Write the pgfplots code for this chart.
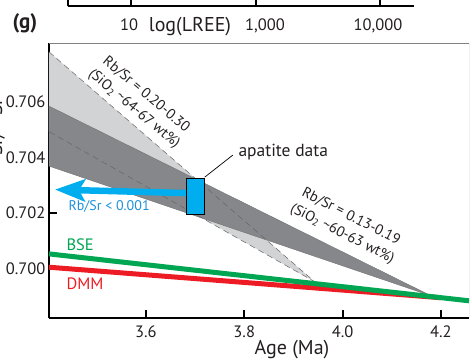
\documentclass[border=0pt]{standalone}
\usepackage{pgfplots}
\pgfplotsset{compat=1.18}
\usepackage{fontspec}
\setmainfont{PT Sans}
\usetikzlibrary{arrows.meta}
\definecolor{lgray}{HTML}{D1D3D4}
\definecolor{dgray}{HTML}{86878A}
\definecolor{acyan}{HTML}{00AEEF}
\definecolor{tblue}{HTML}{1E90D8}
\definecolor{bsegreen}{HTML}{00A651}
\definecolor{dmmred}{HTML}{ED1C24}
\definecolor{txt}{HTML}{231F20}

\begin{document}
\begin{tikzpicture}[x=1pt,y=1pt]
% fragment of the panel above
\begin{axis}[
  at={(68pt,354pt)}, anchor=south west,
  scale only axis, width=346pt, height=30pt,
  xmin=0, xmax=346, ymin=0, ymax=1,
  axis lines*=left,
  axis line style={line width=1.6pt, black},
  xtick={63,188,312}, xticklabels={},
  ytick=\empty,
  tick align=inside,
  major tick length=6pt,
  tick style={line width=1.6pt, black},
]
\end{axis}
\node[anchor=base, font=\fontsize{16.5}{19}\selectfont, text=txt] at (129,330) {10};
\node[anchor=base, font=\fontsize{16.5}{19}\selectfont, text=txt] at (265,330) {1,000};
\node[anchor=base, font=\fontsize{16.5}{19}\selectfont, text=txt] at (378,330) {10,000};
\node[anchor=base, font=\fontsize{20}{22}\selectfont, text=txt] at (190,329) {log(LREE)};
\node[anchor=base, font=\bfseries\fontsize{21}{24}\selectfont, text=txt] at (25,332) {(g)};

% main panel
\begin{axis}[
  at={(49pt,42pt)}, anchor=south west,
  scale only axis, width=420pt, height=275pt,
  xmin=3.403, xmax=4.257, ymin=0.69821, ymax=0.70812,
  axis lines*=left,
  axis line style={line width=1.8pt, black},
  xtick={3.6,3.8,4.0,4.2},
  ytick={0.700,0.702,0.704,0.706},
  tick align=inside,
  major tick length=8pt,
  tick style={line width=1.8pt, black},
  scaled y ticks=false, scaled x ticks=false,
  /pgf/number format/assume math mode=true,
  xticklabel style={/pgf/number format/.cd, fixed, fixed zerofill, precision=1},
  yticklabel style={/pgf/number format/.cd, fixed, fixed zerofill, precision=3},
  tick label style={font=\fontsize{16.5}{19}\selectfont, text=txt},
  xticklabel shift=4pt,
]
% Rb/Sr 0.20-0.30 wedge
\addplot[fill=lgray, draw=none] coordinates {(3.403,0.707801) (3.9432,0.699517) (3.403,0.704927)} -- cycle;
% Rb/Sr 0.13-0.19 wedge
\addplot[fill=dgray, draw=none] coordinates {(3.403,0.705845) (4.1807,0.699002) (3.403,0.703684)} -- cycle;
\addplot[draw=black!55, line width=0.4pt] coordinates {(3.403,0.705845) (4.1807,0.699002) (3.403,0.703684)};
\addplot[draw=black!60, line width=0.5pt, dash pattern=on 6pt off 4pt] coordinates {(3.403,0.707801) (3.9432,0.699517) (3.403,0.704927)};
% DMM and BSE
\addplot[dmmred, line width=5pt] coordinates {(3.403,0.70004) (4.2,0.69894)};
\addplot[bsegreen, line width=5pt] coordinates {(3.403,0.70052) (4.257,0.69883)};
% arrow Rb/Sr < 0.001
\addplot[acyan, line width=6.5pt, -{Stealth[length=30pt,width=22pt,inset=6pt]}] coordinates {(3.6812,0.702712) (3.4152,0.702838)};
% apatite data box
\addplot[fill=acyan, draw=black, line width=0.6pt] coordinates {(3.6812,0.701956) (3.7178,0.701956) (3.7178,0.703241) (3.6812,0.703241)} -- cycle;
\addplot[black, line width=0.7pt] coordinates {(3.7198,0.703288) (3.7767,0.704080)};
\draw[black!50, line width=0.8pt] (rel axis cs:0,1) -- (rel axis cs:1,1) -- (rel axis cs:1,0);
\end{axis}

\node[anchor=base, font=\fontsize{20}{22}\selectfont, text=txt] at (292,6) {Age (Ma)};
\node[rotate=90, anchor=base, font=\fontsize{20}{22}\selectfont, text=txt] at (2,225) {\textsuperscript{87}Sr/\textsuperscript{86}Sr};
\node[anchor=base west, font=\fontsize{17.5}{20}\selectfont, text=txt] at (235,204) {apatite data};
\node[anchor=base west, font=\fontsize{14}{16}\selectfont, text=tblue] at (65,150) {Rb/Sr < 0.001};
\node[anchor=base west, font=\fontsize{16.5}{18}\selectfont, text=bsegreen] at (63,110) {BSE};
\node[anchor=base west, font=\fontsize{16.5}{18}\selectfont, text=dmmred] at (63,71) {DMM};
\node[rotate=-40, align=center, font=\fontsize{14.5}{18.5}\selectfont, text=txt] at (140,258) {Rb/Sr = 0.20-0.30\\(SiO\textsubscript{2} \textasciitilde64-67 wt\%)};
\node[rotate=-27, align=center, font=\fontsize{14.5}{19}\selectfont, text=txt] at (346.5,134.5) {Rb/Sr = 0.13-0.19\\(SiO\textsubscript{2} \textasciitilde60-63 wt\%)};

\pgfresetboundingbox
\useasboundingbox (0,0) rectangle (472,360);
\end{tikzpicture}
\end{document}
